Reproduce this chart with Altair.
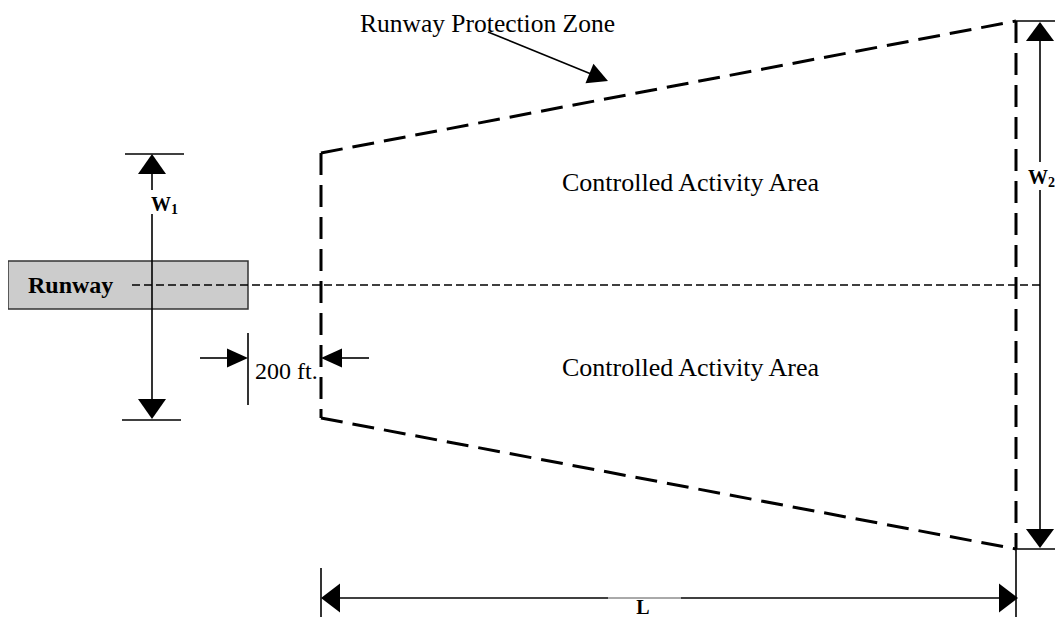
import altair as alt
import pandas as pd

# ---- figure geometry (figure pixel units, y grows downward) ----
runway_x = [8]
runway_x2 = [248]
runway_y = [261]
runway_y2 = [309]

# solid dimension lines: x1, y1, x2, y2
solid_x1 = [152, 152, 125, 122, 248, 200, 342, 488, 1040, 1040, 1016, 1016, 321, 1016, 340, 681]
solid_y1 = [172, 214, 154, 420, 333, 358, 358, 32, 40, 190, 21, 549, 568, 549, 598, 598]
solid_x2 = [152, 152, 184, 181, 248, 228, 369, 596, 1040, 1040, 1063, 1063, 321, 1016, 608, 1000]
solid_y2 = [190, 399, 154, 420, 405, 358, 358, 76, 162, 530, 21, 549, 625, 625, 598, 598]

thin_x1 = [608]
thin_y1 = [598]
thin_x2 = [681]
thin_y2 = [598]

# dashed outline of the runway protection zone
zone_x1 = [321, 321, 321, 1016]
zone_y1 = [153, 153, 418, 21]
zone_x2 = [1016, 321, 1016, 1016]
zone_y2 = [21, 418, 549, 549]

# runway centerline
center_x1 = [132]
center_y1 = [285]
center_x2 = [1040]
center_y2 = [285]

# arrowheads: tip position, direction (deg, clockwise from right), length, half-width ratio
arrow_x = [152, 152, 248, 321, 608, 1040, 1040, 321, 1018]
arrow_y = [154, 419, 358, 358, 81, 22, 548, 598, 598]
arrow_dir = [270, 90, 0, 180, 22, 270, 90, 180, 0]
arrow_len = [20, 20, 21, 21, 20, 19, 19, 19, 19]
arrow_ratio = [0.7, 0.7, 0.45, 0.45, 0.53, 0.74, 0.74, 0.76, 0.76]

# labels
reg_text = ["Runway Protection Zone"]
reg_x = [360]
reg_y = [32]

area_text = ["Controlled Activity Area", "Controlled Activity Area"]
area_x = [562, 562]
area_y = [191, 376]

dim_text = ["200 ft."]
dim_x = [255]
dim_y = [379]

runway_label = ["Runway"]
runway_lx = [28]
runway_ly = [293]

w_text = ["W", "W"]
w_x = [151, 1028]
w_y = [211, 184]

sub_text = ["1", "2"]
sub_x = [171, 1048]
sub_y = [214, 187]

l_text = ["L"]
l_x = [643]
l_y = [614]

# ---- scales ----
W, H = 1047, 609
xs = alt.Scale(domain=[8, 8 + W], nice=False, zero=False)
ys = alt.Scale(domain=[8, 8 + H], nice=False, zero=False, reverse=True)


def X(f="x"):
    return alt.X(f"{f}:Q", scale=xs, axis=None)


def Y(f="y"):
    return alt.Y(f"{f}:Q", scale=ys, axis=None)


def seg_df(x1, y1, x2, y2):
    return pd.DataFrame({"x": x1, "y": y1, "x2": x2, "y2": y2})


runway = alt.Chart(pd.DataFrame({"x": runway_x, "x2": runway_x2, "y": runway_y, "y2": runway_y2})).mark_rect(
    fill="#cccccc", stroke="#333333", strokeWidth=1.5, clip=False
).encode(x=X(), x2="x2:Q", y=Y(), y2="y2:Q")

center = alt.Chart(seg_df(center_x1, center_y1, center_x2, center_y2)).mark_rule(
    color="#000000", strokeWidth=1.5, strokeDash=[8, 4], clip=False
).encode(x=X(), x2="x2:Q", y=Y(), y2="y2:Q")

zone = alt.Chart(seg_df(zone_x1, zone_y1, zone_x2, zone_y2)).mark_rule(
    color="#000000", strokeWidth=3, strokeDash=[22, 10], clip=False
).encode(x=X(), x2="x2:Q", y=Y(), y2="y2:Q")

solid = alt.Chart(seg_df(solid_x1, solid_y1, solid_x2, solid_y2)).mark_rule(
    color="#000000", strokeWidth=1.6, clip=False
).encode(x=X(), x2="x2:Q", y=Y(), y2="y2:Q")

thin = alt.Chart(seg_df(thin_x1, thin_y1, thin_x2, thin_y2)).mark_rule(
    color="#555555", strokeWidth=1, clip=False
).encode(x=X(), x2="x2:Q", y=Y(), y2="y2:Q")

arr_df = pd.DataFrame({
    "x": arrow_x,
    "y": arrow_y,
    "angle": arrow_dir,
    "size": [(2 * l) ** 2 for l in arrow_len],
    "shape": [f"M0,0L-1,-{r}L-1,{r}Z" for r in arrow_ratio],
})
arrows = alt.Chart(arr_df).mark_point(
    filled=True, color="#000000", opacity=1, strokeWidth=0, clip=False
).encode(
    x=X(), y=Y(),
    angle=alt.Angle("angle:Q", scale=None),
    size=alt.Size("size:Q", scale=None),
    shape=alt.Shape("shape:N", scale=None),
)

FONT = "Liberation Serif"

reg = alt.Chart(pd.DataFrame({"x": reg_x, "y": reg_y, "t": reg_text})).mark_text(
    font=FONT, fontSize=25.5, align="left", baseline="alphabetic", color="#000000", clip=False
).encode(x=X(), y=Y(), text="t:N")

area = alt.Chart(pd.DataFrame({"x": area_x, "y": area_y, "t": area_text})).mark_text(
    font=FONT, fontSize=26, align="left", baseline="alphabetic", color="#000000", clip=False
).encode(x=X(), y=Y(), text="t:N")

dim = alt.Chart(pd.DataFrame({"x": dim_x, "y": dim_y, "t": dim_text})).mark_text(
    font=FONT, fontSize=24, align="left", baseline="alphabetic", color="#000000", clip=False
).encode(x=X(), y=Y(), text="t:N")

rw = alt.Chart(pd.DataFrame({"x": runway_lx, "y": runway_ly, "t": runway_label})).mark_text(
    font=FONT, fontSize=24, fontWeight="bold", align="left", baseline="alphabetic", color="#000000", clip=False
).encode(x=X(), y=Y(), text="t:N")

wl = alt.Chart(pd.DataFrame({"x": w_x, "y": w_y, "t": w_text})).mark_text(
    font=FONT, fontSize=20, fontWeight="bold", align="left", baseline="alphabetic", color="#000000", clip=False
).encode(x=X(), y=Y(), text="t:N")

sub = alt.Chart(pd.DataFrame({"x": sub_x, "y": sub_y, "t": sub_text})).mark_text(
    font=FONT, fontSize=14, fontWeight="bold", align="left", baseline="alphabetic", color="#000000", clip=False
).encode(x=X(), y=Y(), text="t:N")

ll = alt.Chart(pd.DataFrame({"x": l_x, "y": l_y, "t": l_text})).mark_text(
    font=FONT, fontSize=20, fontWeight="bold", align="center", baseline="alphabetic", color="#000000", clip=False
).encode(x=X(), y=Y(), text="t:N")

chart = alt.layer(runway, center, zone, solid, thin, arrows, reg, area, dim, rw, wl, sub, ll).properties(
    width=W, height=H, padding=0, autosize=alt.AutoSizeParams(type="none"), background="#ffffff"
).configure_view(stroke=None)

chart.save("out.html", embed_options={"renderer": "svg", "actions": False})
